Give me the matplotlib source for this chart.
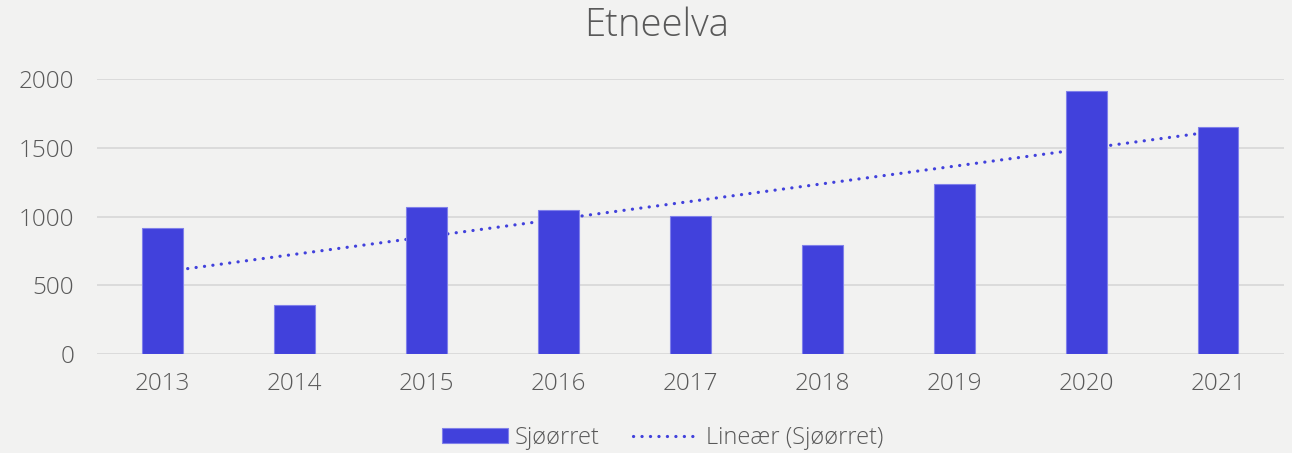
import numpy as np
import matplotlib
matplotlib.use("Agg")
import matplotlib.pyplot as plt

plt.rcParams['font.family'] = ['Open Sans', 'DejaVu Sans']

years = ['2013', '2014', '2015', '2016', '2017', '2018', '2019', '2020', '2021']
sjoorret = [916, 356, 1069, 1047, 1004, 793, 1236, 1913, 1651]

bg = '#f2f2f1'
bar_color = '#4141dc'
text_color = '#595959'

fig = plt.figure(figsize=(12.92, 4.53), dpi=100, facecolor=bg)
ax = fig.add_axes([0.0747, 0.2185, 0.9191, 0.6071], facecolor=bg)

x = np.arange(len(years))
slope, intercept = np.polyfit(x, sjoorret, 1)
trend = slope * x + intercept

ax.plot(x, trend, linestyle=(0, (0.05, 2.6)), color=bar_color, linewidth=2.3,
        dash_capstyle='round', zorder=2, label='Lineær (Sjøørret)')
ax.bar(x, sjoorret, width=0.31, color=bar_color, edgecolor='#8080ea',
       linewidth=0.8, zorder=3, label='Sjøørret')

ax.set_xlim(-0.5, len(years) - 0.5)
ax.set_ylim(0, 2000)
ax.set_yticks([0, 500, 1000, 1500, 2000])
ax.set_xticks(x)
ax.set_xticklabels(years)
ax.yaxis.grid(True, color='#d9d9d9', linewidth=1.3, zorder=0)
ax.set_axisbelow(True)
for s in ax.spines.values():
    s.set_visible(False)
ax.tick_params(axis='both', length=0, labelsize=17.5, colors=text_color)
ax.tick_params(axis='x', pad=13)
ax.tick_params(axis='y', pad=16)
for lbl in ax.get_xticklabels() + ax.get_yticklabels():
    lbl.set_fontweight('light')

fig.suptitle('Etneelva', fontsize=27.5, color=text_color, x=0.508, y=0.985,
             fontweight='light')

handles, labels = ax.get_legend_handles_labels()
leg = fig.legend(handles[::-1], labels[::-1], loc='lower center', ncol=2,
                 bbox_to_anchor=(0.513, -0.04), frameon=False,
                 prop={'size': 17, 'weight': 'light'},
                 handlelength=2.8, handleheight=0.55, columnspacing=1.4,
                 handletextpad=0.3)
for t in leg.get_texts():
    t.set_color(text_color)

fig.savefig('out.png', dpi=100, facecolor=bg)
